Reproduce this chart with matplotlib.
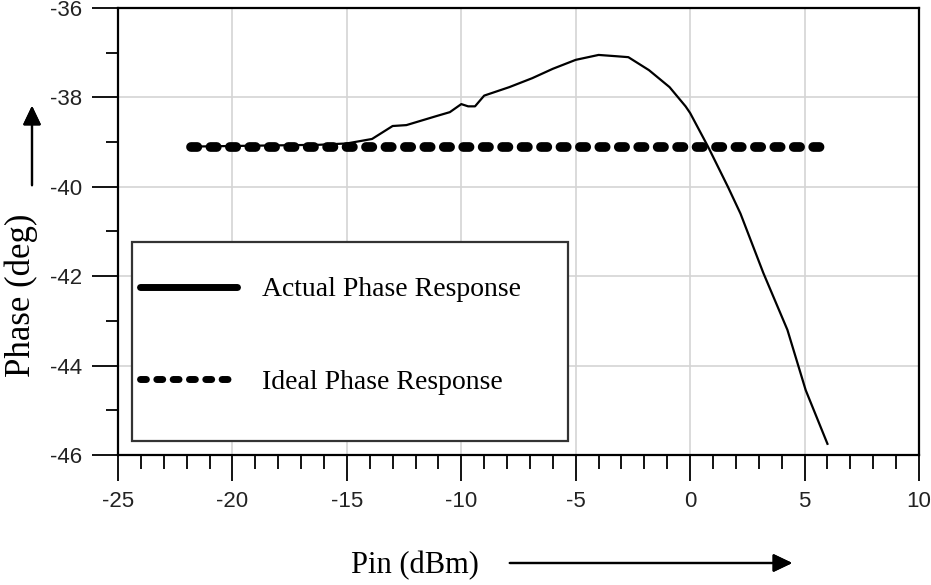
import matplotlib
matplotlib.use("Agg")
from matplotlib import pyplot as plt
from matplotlib.patches import Rectangle
from matplotlib.ticker import MultipleLocator

plt.rcParams["axes.unicode_minus"] = False

# measured phase vs input power
pin_actual = [-21.8, -16.2, -15.0, -13.9, -13.0, -12.4, -11.1, -10.5, -10.0, -9.7,
              -9.4, -9.0, -7.9, -6.9, -6.0, -5.0, -4.0, -3.2, -2.7, -1.8,
              -0.9, -0.2, 0.0, 0.78, 1.65, 2.2, 3.2, 4.25, 5.05, 6.0]
phase_actual = [-39.10, -39.06, -39.03, -38.93, -38.64, -38.62, -38.42, -38.33, -38.15, -38.20,
                -38.20, -37.96, -37.77, -37.57, -37.36, -37.16, -37.05, -37.08, -37.10, -37.39,
                -37.77, -38.20, -38.35, -39.10, -40.00, -40.60, -41.93, -43.20, -44.55, -45.75]

# ideal (constant) phase
pin_ideal = [-21.8, 6.0]
phase_ideal = [-39.12, -39.12]

xticks = [-25, -20, -15, -10, -5, 0, 5, 10]
yticks = [-46, -44, -42, -40, -38, -36]

serif = ["Liberation Serif", "DejaVu Serif"]
sans = ["Liberation Sans", "DejaVu Sans"]

fig = plt.figure(figsize=(9.31, 5.85), dpi=100)
ax = fig.add_axes([118 / 931, 1 - 455 / 585, 801 / 931, 447 / 585])

ax.plot(pin_actual, phase_actual, color="black", lw=1.6, label="Actual Phase Response", zorder=3)
ax.plot(pin_ideal, phase_ideal, color="black", lw=7, ls=(0, (0.65, 1.35)),
        dash_capstyle="round", label="Ideal Phase Response", zorder=4)

ax.set_xlim(-25, 10)
ax.set_ylim(-46, -36)
ax.set_xticks(xticks)
ax.set_yticks(yticks)
ax.xaxis.set_minor_locator(MultipleLocator(1))
ax.yaxis.set_minor_locator(MultipleLocator(1))
ax.grid(True, which="major", color="#d4d4d4", lw=1.2)
ax.set_axisbelow(True)

for s in ax.spines.values():
    s.set_linewidth(1.6)
    s.set_color("black")

ax.tick_params(which="major", direction="out", length=19, width=1.3, pad=7,
               labelsize=16, labelcolor="#222222")
ax.tick_params(axis="y", which="minor", direction="out", length=9, width=1.3)
ax.tick_params(axis="x", which="minor", direction="out", length=10, width=1.3)
for lab in ax.get_xticklabels() + ax.get_yticklabels():
    lab.set_family(sans)

ax.set_xlabel("Pin (dBm)", family=serif, fontsize=22)
ax.set_ylabel("Phase (deg)", family=serif, fontsize=25)
ax.xaxis.set_label_coords(0.371, -0.215)
ax.yaxis.set_label_coords(-0.10, 0.358)

# legend box drawn as its own patch so the rows can sit freely inside it
ax.add_patch(Rectangle((0.0175, 0.0313), 0.544, 0.445, transform=ax.transAxes,
                       facecolor="white", edgecolor="#333333", lw=1.6, zorder=4.9))
leg = ax.legend(loc="center left", bbox_to_anchor=(0.0275, 0.266),
                prop={"family": serif, "size": 20}, frameon=False,
                handlelength=3.5, handletextpad=0.9, labelspacing=2.42,
                borderpad=0, borderaxespad=0)
leg.set_zorder(5)
h_solid, h_dash = leg.get_lines()
h_solid.set_linewidth(5)
h_solid.set_solid_capstyle("round")
h_dash.set_linewidth(5)
h_dash.set_linestyle((0, (0.85, 1.5)))
h_dash.set_dash_capstyle("round")

# direction arrows beside the axis labels
arrow = dict(arrowstyle="-|>,head_length=1.15,head_width=0.55", color="black", lw=1.6)
fig.add_artist(plt.annotate("", xy=(32, 482), xytext=(32, 397),
                            xycoords="figure pixels", textcoords="figure pixels",
                            arrowprops=arrow))
fig.add_artist(plt.annotate("", xy=(795, 22), xytext=(507, 22),
                            xycoords="figure pixels", textcoords="figure pixels",
                            arrowprops=arrow))

fig.savefig("out.png", dpi=100)
